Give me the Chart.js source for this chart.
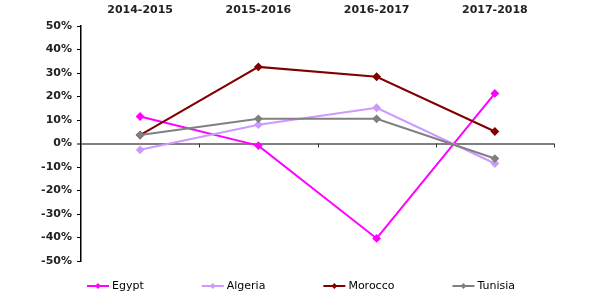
<!DOCTYPE html>
<html>
<head>
<meta charset="utf-8">
<script src="https://cdn.jsdelivr.net/npm/chart.js@4/dist/chart.umd.min.js"></script>
<style>
  html, body { margin: 0; padding: 0; background: #fff; }
  #wrap { width: 600px; height: 297px; }
</style>
</head>
<body>
<div id="wrap"><canvas id="growthChart" width="600" height="297"></canvas></div>
<script>
// Year-on-year change by country
const periods = ['2014-2015', '2015-2016', '2016-2017', '2017-2018'];
const egypt   = [11.5, -0.9, -40.4, 21.3];
const algeria = [-2.7, 8.0, 15.2, -8.5];
const morocco = [3.6, 32.6, 28.4, 5.1];
const tunisia = [3.6, 10.5, 10.5, -6.4];
const yTicks  = [-50, -40, -30, -20, -10, 0, 10, 20, 30, 40, 50];

const tickFont = { family: 'DejaVu Sans', size: 11, weight: 'bold' };

// later series sit on top, like the original
function series(label, data, color, order) {
    return {
        label: label,
        data: data,
        borderColor: color,
        backgroundColor: color,
        borderWidth: 2,
        pointStyle: 'rectRot',
        pointRadius: 3,
        pointHoverRadius: 3,
        tension: 0,
        order: order
    };
}

// ticks on the zero line at the category edges
const zeroTicks = {
    id: 'zeroTicks',
    afterDatasetsDraw(chart) {
        const x = chart.scales.x, y = chart.scales.y;
        const y0 = y.getPixelForValue(0);
        const n = periods.length;
        const c = chart.ctx;
        c.save();
        c.strokeStyle = '#333';
        c.lineWidth = 1;
        for (let i = 1; i <= n; i++) {
            const px = Math.round(x.left + i * (x.right - x.left) / n) + 0.5;
            c.beginPath();
            c.moveTo(px, y0);
            c.lineTo(px, y0 + 4);
            c.stroke();
        }
        c.restore();
    }
};

// legend row: line + diamond + label, fixed gap between items
const lineLegend = {
    id: 'lineLegend',
    afterDraw(chart) {
        const c = chart.ctx;
        const sets = chart.data.datasets;
        const lineW = 22, gap = 58, textGap = 3;
        c.save();
        c.font = '11px "DejaVu Sans"';
        c.textBaseline = 'middle';
        let x = 87;
        const yc = 286;
        sets.forEach(d => {
            c.strokeStyle = d.borderColor;
            c.fillStyle = d.borderColor;
            c.lineWidth = 2;
            c.beginPath();
            c.moveTo(x, yc);
            c.lineTo(x + lineW, yc);
            c.stroke();
            const mx = x + lineW / 2;
            c.beginPath();
            c.moveTo(mx, yc - 3);
            c.lineTo(mx + 3, yc);
            c.lineTo(mx, yc + 3);
            c.lineTo(mx - 3, yc);
            c.closePath();
            c.fill();
            c.fillStyle = '#000';
            c.fillText(d.label, x + lineW + textGap, yc);
            x += lineW + textGap + c.measureText(d.label).width + gap;
        });
        c.restore();
    }
};

const ctx = document.getElementById('growthChart').getContext('2d');
const growthChart = new Chart(ctx, {
    type: 'line',
    data: {
        labels: periods,
        datasets: [
            series('Egypt', egypt, '#FF00FF', 4),
            series('Algeria', algeria, '#CC99FF', 3),
            series('Morocco', morocco, '#800000', 2),
            series('Tunisia', tunisia, '#808080', 1)
        ]
    },
    options: {
        responsive: false,
        animation: false,
        layout: { padding: { left: 0, right: 46, top: 0, bottom: 36 } },
        plugins: {
            legend: { display: false },
            tooltip: { enabled: false }
        },
        scales: {
            x: {
                position: 'top',
                offset: true,
                grid: { display: false, drawTicks: false },
                border: { display: false },
                ticks: { font: tickFont, color: '#222', padding: 9, maxRotation: 0 },
                afterFit(scale) { scale.height = 26; }
            },
            y: {
                min: -50,
                max: 50,
                afterBuildTicks(scale) { scale.ticks = yTicks.map(v => ({ value: v })); },
                ticks: {
                    font: tickFont,
                    color: '#222',
                    padding: 5,
                    callback: v => v + '%'
                },
                grid: {
                    color: c => (c.tick && c.tick.value === 0) ? '#808080' : 'rgba(0,0,0,0)',
                    lineWidth: c => (c.tick && c.tick.value === 0) ? 2 : 1,
                    tickColor: '#000',
                    tickWidth: 1,
                    tickLength: 4
                },
                border: { color: '#000', width: 1.5 },
                afterFit(scale) { scale.width = 81; }
            }
        }
    },
    plugins: [zeroTicks, lineLegend]
});
</script>
</body>
</html>
